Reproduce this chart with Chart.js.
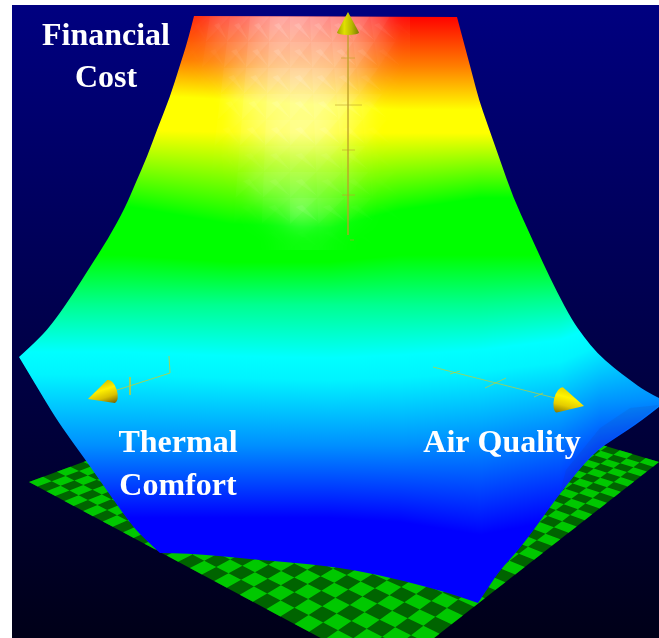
<!DOCTYPE html>
<html>
<head>
<meta charset="utf-8">
<style>
  html, body { margin: 0; padding: 0; background: #fff; }
  #wrap { width: 659px; height: 638px; }
  canvas { display: block; filter: blur(0.4px); }
</style>
<script src="https://cdn.jsdelivr.net/npm/chart.js@4/dist/chart.umd.min.js"></script>
</head>
<body>
<div id="wrap"><canvas id="surfaceChart" width="659" height="638"></canvas></div>
<script>
// outline of the cost surface, clockwise from the top left corner
const surfaceX = [194,188,180,170,158,147,136,125,108,90,73,55,40,19,37,55,71,87,110,133,147,160,187,250,330,380,427,455,478,488,500,523,560,593,617,640,659,659,645,630,614,597,584,572,557,543,528,513,500,487,479,473,465,457];
const surfaceY = [16,40,65,97,127,157,182,208,239,267,294,320,338,357,387,417,440,462,495,527,541,553,553,559,566,575,587,595,603,588,570,545,493,453,437,422,407,398,391,380,368,353,337,320,292,263,230,197,160,123,100,77,47,17];
const surfaceCorners = [0,13,21,28,36,37,53];

// height colour contours: y of each colour at each x
const isoX = [19,125,230,330,400,480,560,600,659];
const isoColors = ['#ff0000','#ff8000','#ffff00','#ffff00','#00ff00','#00ff00','#00ff90','#00ffff','#00f4ff','#0090ff','#0000ff','#0000ff'];
const isoRed = [-10,-10,8,16,16,16,16,16,16];
const isoOrange = [58,58,62,66,67,67,67,67,67];
const isoYellowTop = [94,94,100,106,110,110,110,110,110];
const isoYellowEnd = [130,130,132,133,133,133,133,133,133];
const isoGreenTop = [206,206,224,228,210,198,198,198,198];
const isoGreenEnd = [255,255,262,262,255,255,255,255,255];
const isoSpring = [305,305,305,305,305,305,300,290,280];
const isoCyanTop = [352,352,356,358,355,350,340,325,300];
const isoCyanEnd = [375,375,378,380,378,372,362,345,320];
const isoMidBlue = [445,445,445,445,445,440,425,405,398];
const isoBlue = [518,518,518,518,522,535,520,490,470];
const isoEnd = [700,700,700,700,700,700,700,700,700];
const isoRows = [isoRed,isoOrange,isoYellowTop,isoYellowEnd,isoGreenTop,isoGreenEnd,isoSpring,isoCyanTop,isoCyanEnd,isoMidBlue,isoBlue,isoEnd];

// faint darker strip on the right wing
const wingX = [659,640,615,593,560,566,600,630];
const wingY = [405,420,437,453,493,470,428,408];

// specular patch near the top of the surface (white opacity)
const glossX = [170,190,210,230,250,270,290,310,330,350,370,390,410];
const glossY = [16,42,68,94,120,146,172,198,224,250];
const glossAlpha = [
  [0,.08,.25,.35,.50,.60,.60,.55,.50,.40,.25,.05],
  [0,.04,.15,.30,.45,.55,.55,.55,.50,.35,.15,.02],
  [0,0,.06,.28,.45,.55,.60,.55,.45,.25,.05,0],
  [0,0,0,.22,.38,.48,.52,.50,.40,.20,.02,0],
  [0,0,0,.15,.32,.45,.50,.45,.30,.12,0,0],
  [0,0,0,.05,.15,.25,.28,.25,.18,.05,0,0],
  [0,0,0,.02,.18,.24,.26,.20,.15,.05,0,0],
  [0,0,0,0,.05,.15,.30,.20,.10,.03,0,0],
  [0,0,0,0,0,.03,.06,.05,.02,0,0,0]
];

// checker floor: left, back, right, front corner
const floorX = [29,341,659,388];
const floorY = [482,367,462,674];
const floorCells = 30;

// axis lines with ticks, null breaks a stroke
const axisUpX = [348,348,null,341,355,null,335,362,null,342,355,null,342,355,null,350,354];
const axisUpY = [35,235,null,58,58,null,105,105,null,150,150,null,195,195,null,240,240];
const axisLeftX = [117,170,169,null,130,130];
const axisLeftY = [390,373,356,null,377,395];
const axisRightX = [433,555,null,450,460,null,485,506,null,534,543];
const axisRightY = [367,398,null,374,371,null,388,378,null,397,393];

// cones at the axis ends
const coneTipX = [348,88,584];
const coneTipY = [12,399,406];
const coneBaseX = [348,111,560];
const coneBaseY = [32.5,391.5,400];
const coneRadius = [11,12,13];
const coneBulge = [2.5,6,6];
const coneShades = [
  ['#7a7a00','#b8b800','#e0e000','#a0a000'],
  ['#d8c400','#fff000','#d8c000','#7a6600'],
  ['#8a7800','#e4cc00','#fff400','#e4d400']
];

const labelText = ['Financial','Cost','Thermal','Comfort','Air Quality'];
const labelX = [106,106,178,178,502];
const labelY = [45,87,452,495,452];

const toPoints = (xs, ys) => xs.map((x, i) => ({ x: x, y: ys[i] }));

// projective map of the unit square on the floor corners
const floorMap = () => {
  const [x0, x1, x2, x3] = floorX;
  const [y0, y1, y2, y3] = floorY;
  const sx = x0 - x1 + x2 - x3, sy = y0 - y1 + y2 - y3;
  const dx1 = x1 - x2, dx2 = x3 - x2, dy1 = y1 - y2, dy2 = y3 - y2;
  const den = dx1 * dy2 - dx2 * dy1;
  const g = (sx * dy2 - dx2 * sy) / den, h = (dx1 * sy - sx * dy1) / den;
  const a = x1 - x0 + g * x1, b = x3 - x0 + h * x3;
  const d = y1 - y0 + g * y1, e = y3 - y0 + h * y3;
  return (u, v) => {
    const w = g * u + h * v + 1;
    return { x: (a * u + b * v + x0) / w, y: (d * u + e * v + y0) / w };
  };
};

const lightCells = () => {
  const map = floorMap();
  const pts = [];
  for (let i = 0; i < floorCells; i++) {
    for (let j = 0; j < floorCells; j++) {
      if ((i + j) % 2) continue;
      const u0 = i / floorCells, u1 = (i + 1) / floorCells;
      const v0 = j / floorCells, v1 = (j + 1) / floorCells;
      pts.push(map(u0, v0), map(u1, v0), map(u1, v1), map(u0, v1), { x: null, y: null });
    }
  }
  return pts;
};

// smooth closed path through the outline, sharp at the listed corners
const tracePath = (ctx, pts, corners) => {
  ctx.beginPath();
  pts.forEach((p, i) => {
    const next = pts[(i + 1) % pts.length];
    if (i === 0) { ctx.moveTo(p.x, p.y); return; }
    if (corners.includes(i)) { ctx.lineTo(p.x, p.y); return; }
    if (corners.includes((i + 1) % pts.length)) ctx.quadraticCurveTo(p.x, p.y, next.x, next.y);
    else ctx.quadraticCurveTo(p.x, p.y, (p.x + next.x) / 2, (p.y + next.y) / 2);
  });
  ctx.closePath();
};

// each pixel column gets its own vertical colour ramp from the contours
const paintColumns = (chart) => {
  const { ctx, scales: { x, y }, chartArea } = chart;
  const top = y.getPixelForValue(-20), bottom = y.getPixelForValue(700);
  const atX = (row, v) => {
    if (v <= isoX[0]) return row[0];
    for (let i = 1; i < isoX.length; i++) {
      if (v <= isoX[i]) return row[i - 1] + (row[i] - row[i - 1]) * (v - isoX[i - 1]) / (isoX[i] - isoX[i - 1]);
    }
    return row[row.length - 1];
  };
  for (let px = Math.floor(chartArea.left); px < chartArea.right; px++) {
    const v = x.getValueForPixel(px + 0.5);
    const grad = ctx.createLinearGradient(0, top, 0, bottom);
    isoRows.forEach((row, i) => {
      grad.addColorStop((y.getPixelForValue(atX(row, v)) - top) / (bottom - top), isoColors[i]);
    });
    ctx.fillStyle = grad;
    ctx.fillRect(px, chartArea.top, 1, chartArea.bottom - chartArea.top);
  }
};

const drawGloss = (chart) => {
  const { ctx, scales: { x, y } } = chart;
  const rows = glossAlpha.length, cols = glossAlpha[0].length;
  // soft patch: the opacity table upscaled with smoothing
  const small = document.createElement('canvas');
  small.width = cols;
  small.height = rows;
  const sctx = small.getContext('2d');
  const img = sctx.createImageData(cols, rows);
  glossAlpha.forEach((row, r) => row.forEach((a, c) => {
    const k = (r * cols + c) * 4;
    img.data[k] = img.data[k + 1] = img.data[k + 2] = 255;
    img.data[k + 3] = Math.round(a * 255);
  }));
  sctx.putImageData(img, 0, 0);
  ctx.imageSmoothingEnabled = true;
  ctx.imageSmoothingQuality = 'high';
  const left = x.getPixelForValue(glossX[0]), right = x.getPixelForValue(glossX[cols]);
  const upper = y.getPixelForValue(glossY[0]), lower = y.getPixelForValue(glossY[rows]);
  ctx.drawImage(small, left, upper, right - left, lower - upper);
  // facets fan out towards the bottom of the patch
  const vx = (c, r) => x.getPixelForValue(290 + (glossX[c] - 290) * (1 + (glossY[r] - 16) / 500));
  const vy = (r) => y.getPixelForValue(glossY[r]);
  glossAlpha.forEach((row, r) => row.forEach((a, c) => {
    if (a <= 0) return;
    const ax = vx(c, r), ay = vy(r), bx = vx(c + 1, r), cx = vx(c, r + 1), dx = vx(c + 1, r + 1), by = vy(r + 1);
    ctx.fillStyle = `rgba(255,255,255,${a * 0.16})`;
    ctx.beginPath();
    ctx.moveTo(ax, ay);
    ctx.lineTo(bx, ay);
    ctx.lineTo(cx, by);
    ctx.closePath();
    ctx.fill();
    ctx.fillStyle = `rgba(255,255,255,${a * 0.22})`;
    ctx.beginPath();
    ctx.moveTo(ax + (bx - ax) * 0.2, ay + 9);
    ctx.lineTo(dx, by - 2);
    ctx.lineTo(ax + (bx - ax) * 0.45, ay + 7);
    ctx.closePath();
    ctx.fill();
  }));
};

// fills the dataset's points as closed polygons, broken at skipped points
const polygonPlugin = {
  id: 'polygonFill',
  beforeDatasetDraw(chart, args) {
    const ds = chart.data.datasets[args.index];
    const { ctx } = chart;
    if (ds.isSurface) {
      ctx.save();
      tracePath(ctx, args.meta.data, surfaceCorners);
      ctx.clip();
      paintColumns(chart);
      drawGloss(chart);
      ctx.restore();
      return;
    }
    if (!ds.polyFill) return;
    ctx.save();
    ctx.fillStyle = ds.polyFill;
    ctx.beginPath();
    let open = false;
    args.meta.data.forEach((p) => {
      if (p.skip) { open = false; return; }
      if (!open) { ctx.moveTo(p.x, p.y); open = true; } else ctx.lineTo(p.x, p.y);
    });
    ctx.closePath();
    ctx.fill();
    ctx.restore();
  }
};

const backgroundPlugin = {
  id: 'panel',
  beforeDatasetsDraw(chart) {
    const { ctx, scales: { x, y } } = chart;
    const grad = ctx.createLinearGradient(0, y.getPixelForValue(5), 0, y.getPixelForValue(638));
    grad.addColorStop(0, '#000080');
    grad.addColorStop(1, '#000018');
    ctx.save();
    ctx.fillStyle = grad;
    ctx.fillRect(x.getPixelForValue(12), y.getPixelForValue(5), x.getPixelForValue(659) - x.getPixelForValue(12), y.getPixelForValue(638) - y.getPixelForValue(5));
    ctx.restore();
  }
};

const drawCone = (chart, i) => {
  const { ctx, scales: { x, y } } = chart;
  const tx = x.getPixelForValue(coneTipX[i]), ty = y.getPixelForValue(coneTipY[i]);
  const bx = x.getPixelForValue(coneBaseX[i]), by = y.getPixelForValue(coneBaseY[i]);
  const r = coneRadius[i];
  const len = Math.hypot(tx - bx, ty - by);
  const dx = (tx - bx) / len, dy = (ty - by) / len;
  const px = -dy, py = dx;
  const grad = ctx.createLinearGradient(bx + px * r, by + py * r, bx - px * r, by - py * r);
  coneShades[i].forEach((c, k) => grad.addColorStop(k / 3, c));
  ctx.save();
  ctx.fillStyle = grad;
  ctx.beginPath();
  ctx.moveTo(tx, ty);
  ctx.lineTo(bx + px * r, by + py * r);
  ctx.ellipse(bx, by, r, coneBulge[i], Math.atan2(py, px), 0, Math.PI, false);
  ctx.closePath();
  ctx.fill();
  ctx.restore();
};

const overlayPlugin = {
  id: 'overlay',
  afterDatasetsDraw(chart) {
    const { ctx, scales: { x, y } } = chart;
    coneTipX.forEach((_, i) => drawCone(chart, i));
    ctx.save();
    ctx.font = 'bold 32px "Liberation Serif", serif';
    ctx.fillStyle = '#ffffff';
    ctx.textAlign = 'center';
    ctx.textBaseline = 'alphabetic';
    labelText.forEach((t, i) => {
      ctx.fillText(t, x.getPixelForValue(labelX[i]), y.getPixelForValue(labelY[i]));
    });
    ctx.restore();
  }
};

const hidden = { borderWidth: 0, pointRadius: 0, showLine: false };

new Chart(document.getElementById('surfaceChart').getContext('2d'), {
  type: 'line',
  data: {
    datasets: [
      { label: 'Floor', data: toPoints(floorX, floorY), polyFill: '#006400', order: 9, ...hidden },
      { label: 'Floor cells', data: lightCells(), polyFill: '#00c800', order: 8, ...hidden },
      { label: 'Surface', data: toPoints(surfaceX, surfaceY), isSurface: true, order: 7, ...hidden },
      { label: 'Wing', data: toPoints(wingX, wingY), polyFill: 'rgba(40,50,120,0.1)', order: 6, ...hidden },
      { label: 'Up axis', data: toPoints(axisUpX, axisUpY), borderColor: 'rgba(190,160,40,0.6)', borderWidth: 1, pointRadius: 0, order: 3 },
      { label: 'Left axis', data: toPoints(axisLeftX, axisLeftY), borderColor: 'rgba(195,205,50,0.8)', borderWidth: 1, pointRadius: 0, order: 2 },
      { label: 'Right axis', data: toPoints(axisRightX, axisRightY), borderColor: 'rgba(195,205,50,0.7)', borderWidth: 1, pointRadius: 0, order: 1 }
    ]
  },
  options: {
    responsive: false,
    animation: false,
    layout: { padding: 0 },
    plugins: { legend: { display: false }, tooltip: { enabled: false } },
    scales: {
      x: { type: 'linear', display: false, min: 0, max: 659 },
      y: { type: 'linear', display: false, min: 0, max: 638, reverse: true }
    }
  },
  plugins: [backgroundPlugin, polygonPlugin, overlayPlugin]
});
</script>
</body>
</html>
